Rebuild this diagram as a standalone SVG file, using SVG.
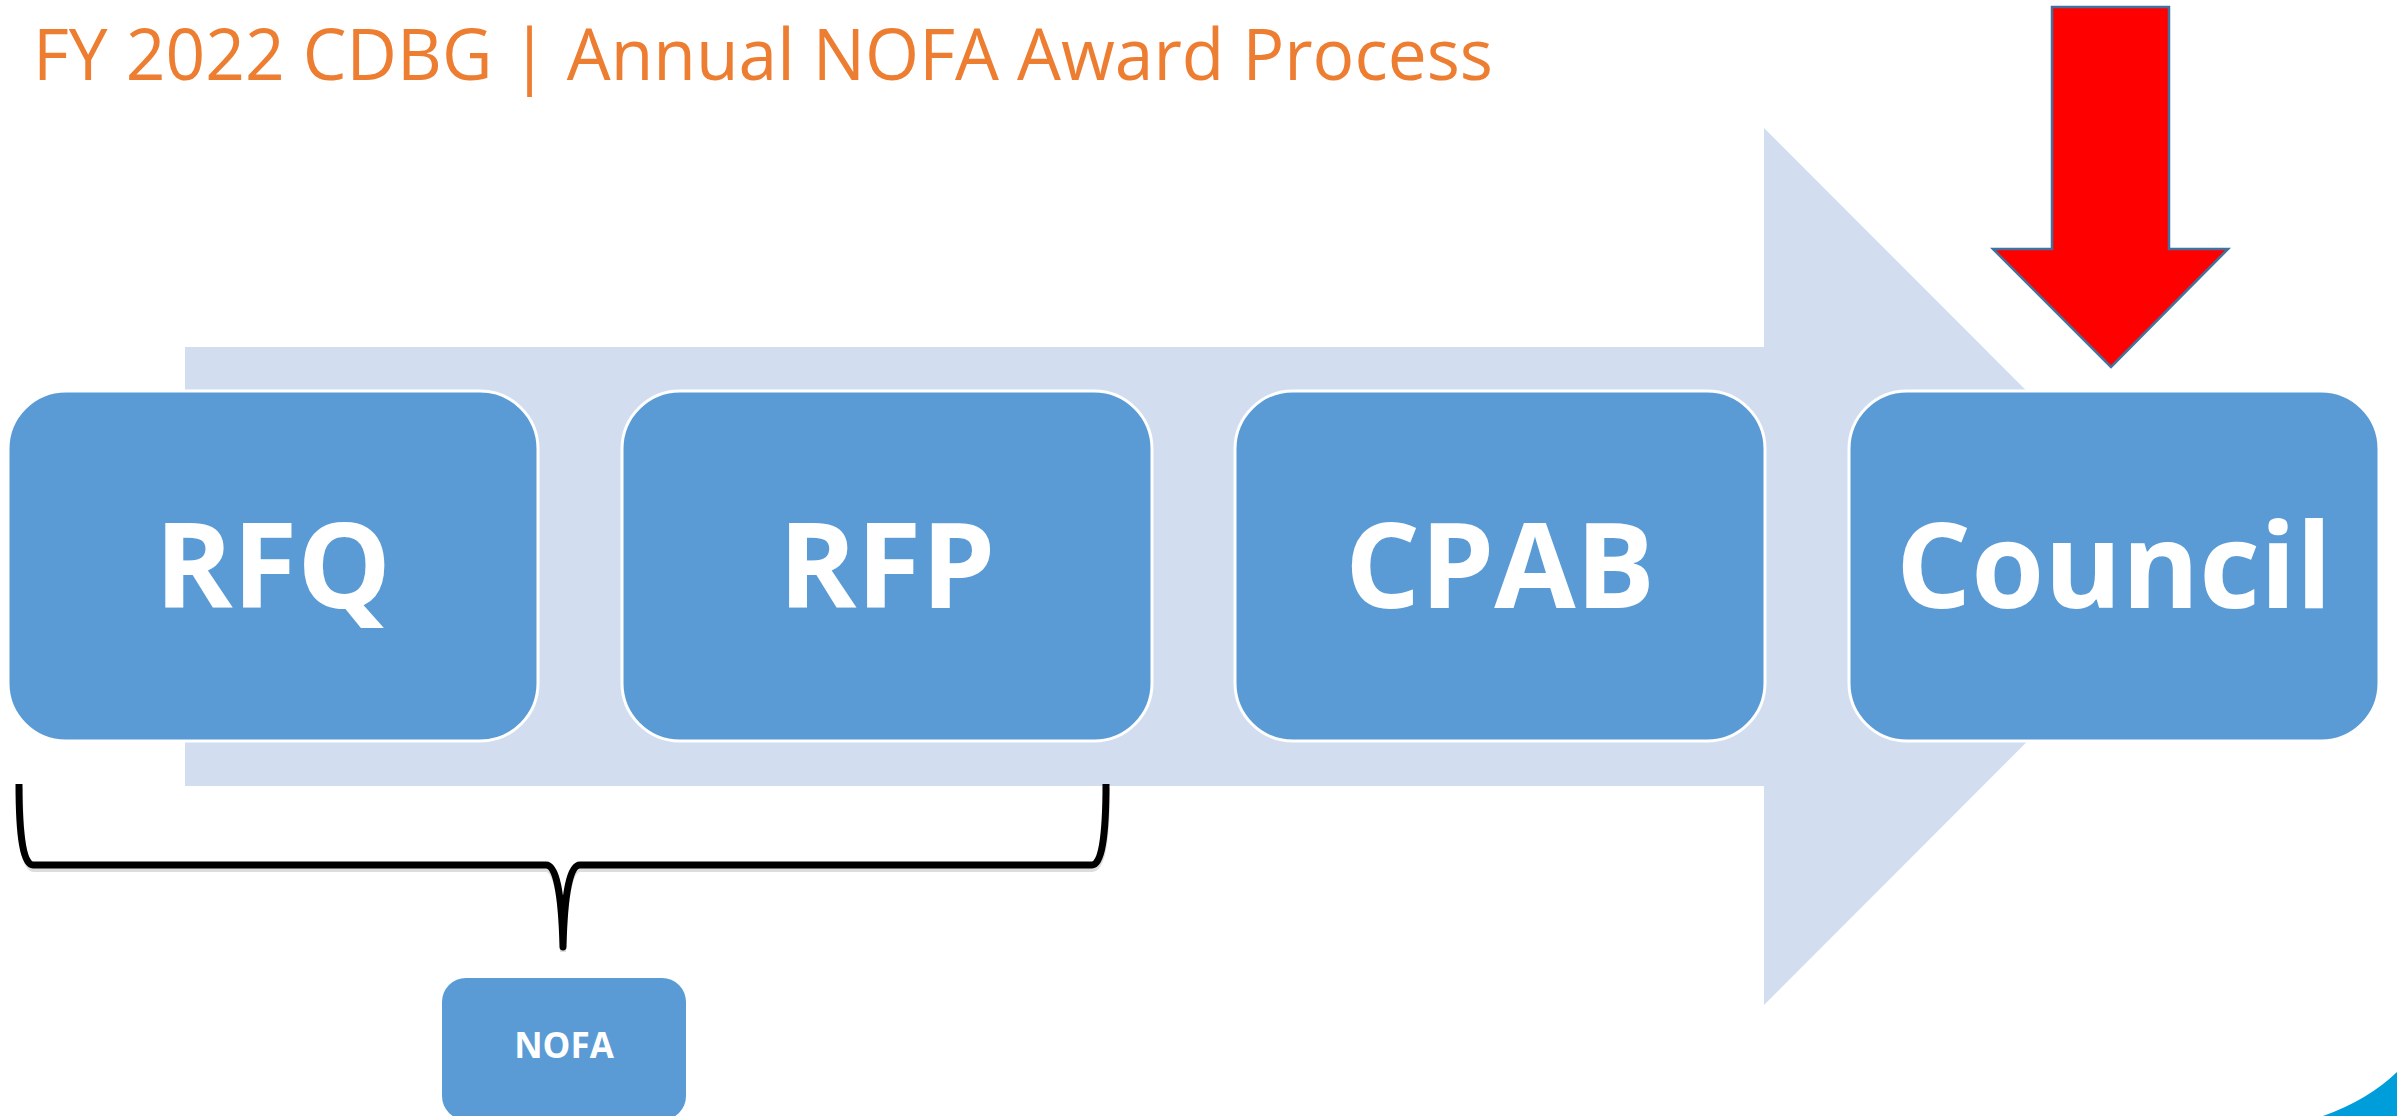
<svg xmlns="http://www.w3.org/2000/svg" width="2397" height="1116" viewBox="0 0 2397 1116">
<style>
.box{fill:#5B9BD5;stroke:#FFFFFF;stroke-width:3}
.lbl{font-family:"Open Sans","Noto Sans",sans-serif;font-weight:700;fill:#FFFFFF;text-anchor:middle}
.title{font-family:"Open Sans","Noto Sans",sans-serif;font-weight:400;fill:#ED7D31}
</style>
<rect width="2397" height="1116" fill="#FFFFFF"/>
<text class="title" x="33" y="80" font-size="72" textLength="1460" lengthAdjust="spacingAndGlyphs">FY 2022 CDBG | Annual NOFA Award Process</text>
<polygon id="flow-arrow" points="185,347 1764,347 1764,128 2202,566.5 1764,1005 1764,786 185,786" fill="#D2DEEF"/>
<g id="node-rfq"><rect class="box" x="8" y="391" width="530" height="350" rx="58"/><text class="lbl" x="273" y="608" font-size="118">RFQ</text></g>
<g id="node-rfp"><rect class="box" x="622" y="391" width="530" height="350" rx="58"/><text class="lbl" x="887" y="608" font-size="118">RFP</text></g>
<g id="node-cpab"><rect class="box" x="1235" y="391" width="530" height="350" rx="58"/><text class="lbl" x="1500" y="608" font-size="118">CPAB</text></g>
<g id="node-council"><rect class="box" x="1849" y="391" width="530" height="350" rx="58"/><text class="lbl" x="2114" y="608" font-size="118">Council</text></g>
<g id="connectors">
<path d="M 20 788 Q 20 869 34 869 L 546 869 Q 561 869 563 952 Q 565 869 580 869 L 1092 869 Q 1107 869 1107 788" fill="none" stroke="#BBBBBB" stroke-width="6" opacity="0.5"/>
<path d="M 19 784 Q 19 865 33 865 L 546 865 Q 561 865 563 947 Q 565 865 580 865 L 1092 865 Q 1106 865 1106 784" fill="none" stroke="#000000" stroke-width="7" stroke-linejoin="round"/>
</g>
<g id="node-nofa"><rect x="442" y="978" width="244" height="142" rx="24" fill="#5B9BD5"/><text class="lbl" x="564" y="1058" font-size="35">NOFA</text></g>
<g id="red-arrow"><polygon points="2052,7 2169,7 2169,249 2228,249 2111,367 1993,249 2052,249" fill="#FF0000" stroke="#41719C" stroke-width="2.5"/></g>
<path d="M 2323 1116 Q 2368 1100 2397 1072 L 2397 1116 Z" fill="#009DDB"/>
</svg>
